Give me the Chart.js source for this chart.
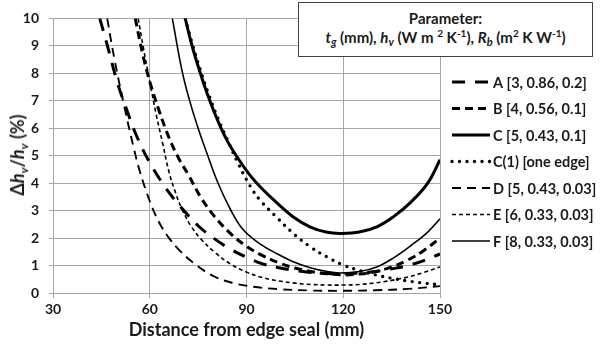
<!DOCTYPE html>
<html>
<head>
<meta charset="utf-8">
<script src="https://cdn.jsdelivr.net/npm/chart.js@4.4.1/dist/chart.umd.min.js"></script>
<style>
  html, body { margin: 0; padding: 0; background: #fff; }
  #wrap { position: relative; width: 600px; height: 345px; overflow: hidden; font-family: Lato, "Open Sans", sans-serif; }
  #c { position: absolute; left: 0; top: 0; }
  #ytitle { position: absolute; left: 17px; top: 155px; transform: translate(-50%, -50%) rotate(-90deg);
            white-space: nowrap; font-weight: bold; font-size: 18px; color: #1a1a1a; line-height: 1; }
  #ytitle sub { font-size: 12px; vertical-align: -4px; line-height: 0; }
  #pbox { position: absolute; left: 298px; top: 2px; width: 293px; height: 53px; border: 1.5px solid #404040;
          background: #fff; text-align: center; font-weight: bold; font-size: 15px; color: #1a1a1a; line-height: 19px; }
  #pbox .l1 { margin-top: 6px; }
  #pbox sub { font-size: 11px; vertical-align: -3px; line-height: 0; }
  #pbox sup { font-size: 10px; vertical-align: 6px; line-height: 0; }
</style>
</head>
<body>
<div id="wrap">
  <canvas id="c" width="600" height="345"></canvas>
  <div id="ytitle">Δ<i>h</i><sub><i>v</i></sub>/<i>h</i><sub><i>v</i></sub> (%)</div>
  <div id="pbox">
    <div class="l1">Parameter:</div>
    <div><i>t</i><sub><i>g</i></sub> (mm), <i>h</i><sub><i>v</i></sub> (W m <sup>2</sup> K<sup>-1</sup>), <i>R</i><sub><i>b</i></sub> (m<sup>2</sup> K W<sup>-1</sup>)</div>
  </div>
</div>
<script>
// ---- data ----
const seriesLabels = ['A [3, 0.86, 0.2]', 'B [4, 0.56, 0.1]', 'C [5, 0.43, 0.1]', 'C(1) [one edge]',
                      'D [5, 0.43, 0.03]', 'E [6, 0.33, 0.03]', 'F [8, 0.33, 0.03]'];
const xTicks = [30, 60, 90, 120, 150];
const yTicks = [0, 1, 2, 3, 4, 5, 6, 7, 8, 9, 10];

const xA = [44.5, 47, 50, 53, 56, 60, 65, 70, 75, 80, 85, 90, 95, 100, 105, 110, 115, 120, 125, 130, 135, 140, 145, 150];
const yA = [10, 8.95, 7.65, 6.63, 5.7, 4.75, 3.82, 3.08, 2.45, 1.98, 1.6, 1.3, 1.06, 0.92, 0.82, 0.75, 0.71, 0.70, 0.72, 0.78, 0.88, 1.0, 1.18, 1.42];

const xB = [55.5, 58, 60, 63, 66, 69, 72, 76, 80, 85, 90, 95, 100, 105, 110, 115, 120, 125, 130, 135, 140, 145, 150];
const yB = [10, 8.6, 7.7, 6.6, 5.65, 4.9, 4.3, 3.45, 2.8, 2.17, 1.7, 1.36, 1.1, 0.91, 0.78, 0.70, 0.66, 0.69, 0.78, 0.95, 1.2, 1.55, 2.0];

const xC = [71, 73, 75.7, 78, 81, 84, 87.5, 91, 94.3, 99.6, 104.5, 109.8, 115, 119, 125, 130.6, 135.6, 140.9, 146.2, 150];
const yC = [10, 9.05, 8.0, 7.2, 6.3, 5.55, 4.88, 4.3, 3.86, 3.26, 2.77, 2.4, 2.21, 2.17, 2.22, 2.42, 2.78, 3.3, 4.0, 4.85];

const xC1 = [71, 73, 75.7, 78, 81, 84, 87.5, 91, 94.3, 99.6, 104.5, 109.8, 115, 120, 125, 130, 135, 140, 145, 150];
const yC1 = [10, 9.15, 8.12, 7.32, 6.4, 5.6, 4.7, 3.92, 3.37, 2.73, 2.17, 1.68, 1.31, 1.02, 0.82, 0.66, 0.54, 0.44, 0.36, 0.30];

const xD = [46.8, 49, 52, 55, 57, 60, 63, 66, 69, 73.5, 80, 86, 92, 100, 110, 120, 130, 140, 150];
const yD = [10, 8.55, 6.85, 5.3, 4.4, 3.35, 2.55, 2.0, 1.58, 1.1, 0.6, 0.36, 0.23, 0.14, 0.09, 0.08, 0.1, 0.15, 0.25];

const xE = [56.4, 58, 60, 62, 64, 66, 68, 70, 73, 76, 80, 85, 90, 95, 100, 105, 110, 115, 120, 125, 130, 135, 140, 145, 150];
const yE = [10, 8.95, 7.7, 6.5, 5.45, 4.4, 3.65, 3.05, 2.4, 1.95, 1.5, 1.06, 0.76, 0.56, 0.44, 0.36, 0.31, 0.29, 0.29, 0.31, 0.37, 0.46, 0.58, 0.75, 0.95];

const xF = [67, 70, 72.5, 75, 78, 81, 85, 89, 94.3, 99.6, 104.5, 109.8, 115, 119, 125, 130.6, 135.6, 140.9, 146.2, 150];
const yF = [10, 8.1, 6.95, 6.0, 5.0, 4.05, 3.05, 2.3, 1.78, 1.42, 1.14, 0.92, 0.78, 0.73, 0.78, 0.96, 1.28, 1.72, 2.22, 2.7];

// ---- build datasets ----
const pts = (xs, ys) => xs.map((x, i) => ({ x: x, y: ys[i] }));
const styles = [
  { w: 3,   dash: [13, 10], cap: 'butt' },
  { w: 3,   dash: [8, 5],   cap: 'butt' },
  { w: 3,   dash: [],       cap: 'butt' },
  { w: 3.4, dash: [0, 7.5], cap: 'round' },
  { w: 1.9, dash: [9, 6],   cap: 'butt' },
  { w: 1.6, dash: [4, 3],   cap: 'butt' },
  { w: 1.6, dash: [],       cap: 'butt' }
];
const seriesData = [pts(xA, yA), pts(xB, yB), pts(xC, yC), pts(xC1, yC1), pts(xD, yD), pts(xE, yE), pts(xF, yF)];
const datasets = seriesData.map((d, i) => ({
  label: seriesLabels[i],
  data: d,
  borderColor: '#000',
  backgroundColor: '#000',
  borderWidth: styles[i].w,
  borderDash: styles[i].dash,
  borderCapStyle: styles[i].cap,
  pointRadius: 0,
  pointHoverRadius: 0,
  fill: false,
  tension: 0.4
}));

const sideLegend = {
  id: 'sideLegend',
  afterDraw(chart, args, o) {
    const ctx = chart.ctx;
    chart.data.datasets.forEach((ds, i) => {
      const y = o.top + i * o.step;
      ctx.save();
      ctx.strokeStyle = ds.borderColor;
      ctx.lineWidth = ds.borderWidth;
      ctx.setLineDash(ds.borderDash || []);
      ctx.lineCap = ds.borderCapStyle || 'butt';
      ctx.beginPath();
      ctx.moveTo(o.x0, y);
      ctx.lineTo(o.x1, y);
      ctx.stroke();
      ctx.restore();
      ctx.save();
      ctx.fillStyle = '#1a1a1a';
      ctx.font = o.font;
      ctx.textBaseline = 'middle';
      ctx.textAlign = 'left';
      ctx.fillText(ds.label, o.textX, y + 1);
      ctx.restore();
    });
  }
};

const gridColor = '#a6a6a6';
const tickFont = { family: 'Lato', size: 14, weight: 'bold' };

new Chart(document.getElementById('c'), {
  type: 'line',
  data: { datasets: datasets },
  plugins: [sideLegend],
  options: {
    responsive: false,
    animation: false,
    devicePixelRatio: 1,
    layout: { padding: { left: 0, right: 160, top: 17, bottom: 0 } },
    plugins: {
      legend: { display: false },
      tooltip: { enabled: false },
      sideLegend: { x0: 452, x1: 490, textX: 493, top: 82, step: 26.5, font: 'bold 14.5px Lato' }
    },
    scales: {
      x: {
        type: 'linear', min: 30, max: 150,
        afterBuildTicks: (s) => { s.ticks = xTicks.map(v => ({ value: v })); },
        afterFit: (s) => { s.height = 52; },
        grid: { color: gridColor, lineWidth: 1, tickLength: 5, drawTicks: true },
        border: { color: gridColor, width: 1 },
        ticks: { font: tickFont, color: '#1a1a1a', padding: 3, maxRotation: 0 },
        title: { display: true, text: 'Distance from edge seal (mm)', color: '#1a1a1a',
                 font: { family: 'Lato', size: 18, weight: 'bold' }, padding: { top: 0, bottom: 4 } }
      },
      y: {
        type: 'linear', min: 0, max: 10,
        afterBuildTicks: (s) => { s.ticks = yTicks.map(v => ({ value: v })); },
        afterFit: (s) => { s.width = 53; },
        grid: { color: gridColor, lineWidth: 1, tickLength: 4, drawTicks: true },
        border: { color: gridColor, width: 1 },
        ticks: { font: tickFont, color: '#1a1a1a', padding: 10 }
      }
    }
  }
});
</script>
</body>
</html>
